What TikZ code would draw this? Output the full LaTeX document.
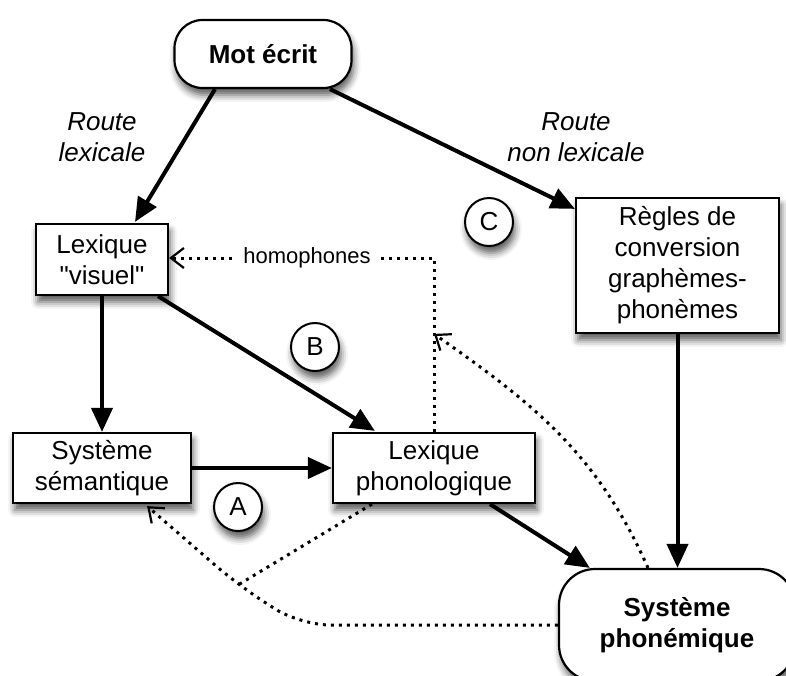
\documentclass[tikz,border=0pt]{standalone}
\usepackage{fontspec}
\setmainfont{Liberation Sans}[Ligatures=TeXOff]
\usetikzlibrary{arrows.meta,calc,shadows.blur}
\begin{document}
\begin{tikzpicture}[x=1pt,y=-1pt,
  shad/.style={blur shadow={shadow xshift=2pt,shadow yshift=-7pt,shadow blur radius=7pt,shadow opacity=65}},
  box/.style={draw, line width=2.2pt, fill=white, align=center, inner sep=0pt, shad,
    font=\fontsize{26}{31}\selectfont},
  rbox/.style={box, font=\bfseries\fontsize{26}{31}\selectfont},
  bubble/.style={circle, draw, line width=2pt, fill=white, minimum size=48pt, inner sep=0pt, shad,
    font=\fontsize{26}{31}\selectfont},
  arr/.style={line width=4pt, -{Triangle[length=24pt,width=21pt]}},
  dots/.style={line width=3pt, dash pattern=on 3pt off 5pt,
    -{Straight Barb[length=13pt,width=20pt,line width=2.2pt]}},
  lbl/.style={align=center, font=\itshape\fontsize{26}{31}\selectfont}
]
\useasboundingbox (0,0) rectangle (786,675);

% nodes
\node[rbox, rounded corners=28pt, minimum width=177pt, minimum height=68pt] (mot) at (263,54) {Mot écrit};
\node[box, minimum width=132pt, minimum height=71pt] (visuel) at (102,259.5) {Lexique\\"visuel"};
\node[box, minimum width=203pt, minimum height=135pt] (regles) at (677.5,265.5) {Règles de\\conversion\\graphèmes-\\phonèmes};
\node[box, minimum width=178pt, minimum height=70pt] (sem) at (102,468) {Système\\sémantique};
\node[box, minimum width=202pt, minimum height=70pt] (phon) at (434,468) {Lexique\\phonologique};
\node[rbox, rounded corners=36pt, minimum width=236pt, minimum height=112pt] (phonem) at (677,625) {Système\\phonémique};

\node[bubble] (C) at (489,222) {C};
\node[bubble] (B) at (315,347) {B};
\node[bubble] (A) at (238,507) {A};

\node[lbl] (rl) at (102,137) {Route\\lexicale};
\node[lbl] (rnl) at (576,137) {Route\\non lexicale};

% solid arrows
\draw[arr] ($(mot.south)+(-48,0)$) -- ($(visuel.north)+(33,-1)$);
\draw[arr] ($(mot.south)+(67,0)$) -- ($(regles.north west)+(0,12)$);
\draw[arr] (visuel) -- (sem);
\draw[arr] ($(visuel.south)+(56,0)$) -- ($(phon.north west)+(43,-1)$);
\draw[arr] (sem) -- (phon);
\draw[arr] ($(phon.south)+(56,0)$) -- ($(phonem.north west)+(32,0)$);
\draw[arr] (regles.south) -- (regles.south |- phonem.north);

% dotted connectors
\draw[dots] (phon.north) |- ($(visuel.east)+(0,-1.5)$);
\node[fill=white, inner xsep=9pt, inner ysep=2pt, font=\fontsize{22}{26}\selectfont] (homo) at (307,258) {homophones};

\coordinate (hmark) at ($(phon.north)+(0,-98)$);
\draw[dots] ($(phonem.north)+(-29,0)$) to[out=114,in=-35] (hmark);

\coordinate (corner) at (300,625);
\coordinate (meet) at (238,585);
\draw[dots, rounded corners=30pt] (phonem.west) -- (corner) -- (meet) -- ($(sem.south east)+(-45,2)$);
\draw[dots, -] ($(phon.south west)+(40,0)$) -- (meet);
\end{tikzpicture}
\end{document}
